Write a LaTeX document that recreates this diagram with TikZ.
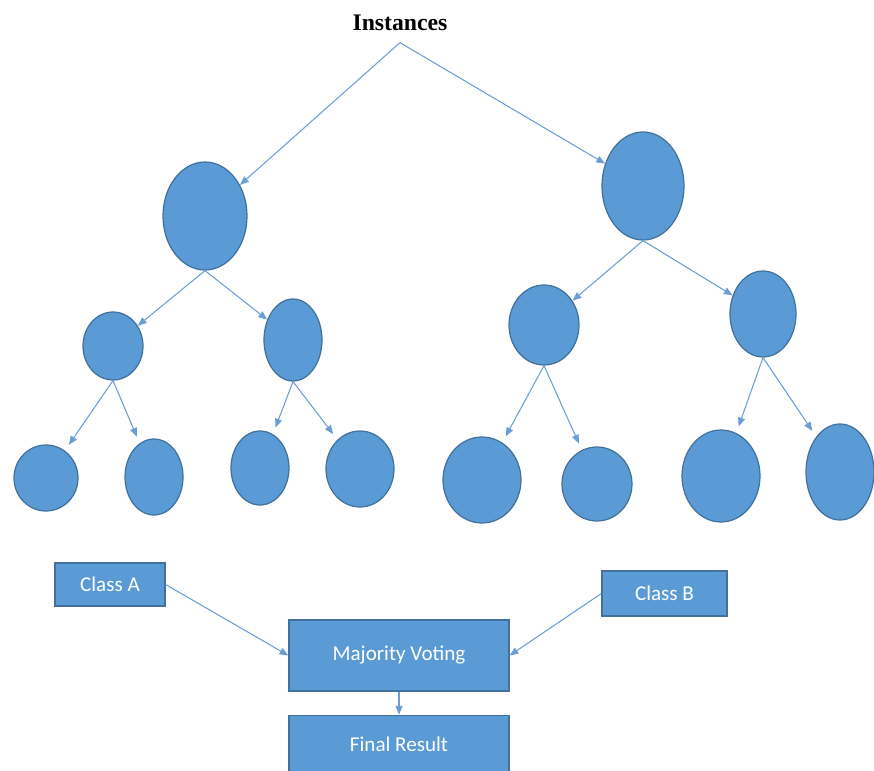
\documentclass[tikz,border=0pt]{standalone}
\usepackage{fontspec}
\setmainfont{Liberation Serif}
\newfontfamily\boxfont{Carlito}
\usepackage{tikz}
\usetikzlibrary{shapes.geometric,arrows.meta,positioning}
\definecolor{nodeblue}{HTML}{5B9BD5}
\definecolor{edgeblue}{HTML}{41719C}
\definecolor{linkblue}{HTML}{6A9ED6}
\tikzset{
  arr/.style={-{Triangle[length=5pt,width=4pt]},line width=0.6pt,linkblue},
  larr/.style={arr,shorten >=4pt},
  tnode/.style={ellipse,inner sep=0pt,fill=nodeblue,draw=edgeblue,line width=0.7pt},
  vbox/.style={rectangle,fill=nodeblue,draw=edgeblue,line width=0.7pt,
    text=white,font=\boxfont\fontsize{12}{14}\selectfont,align=center},
}

\begin{document}
\begin{tikzpicture}
\useasboundingbox (0,0) rectangle (17.48,-15.42);

% title and the two trees
\node[font=\bfseries\fontsize{13.5}{16}\selectfont,inner xsep=2pt,inner ysep=6.5pt] (inst) at (8.0,-0.46) {Instances};
\node[tnode,minimum width=1.68cm,minimum height=2.16cm,on grid,below left=3.86cm and 3.9cm of inst] (rootL) {};
\node[tnode,minimum width=1.64cm,minimum height=2.16cm,on grid,below right=3.26cm and 4.86cm of inst] (rootR) {};

\node[tnode,minimum width=1.2cm,minimum height=1.36cm,on grid,below left=2.6cm and 1.84cm of rootL] (l1) {};
\node[tnode,minimum width=1.16cm,minimum height=1.64cm,on grid,below right=2.48cm and 1.76cm of rootL] (l2) {};
\node[tnode,minimum width=1.4cm,minimum height=1.6cm,on grid,below left=2.78cm and 1.98cm of rootR] (r1) {};
\node[tnode,minimum width=1.32cm,minimum height=1.72cm,on grid,below right=2.56cm and 2.4cm of rootR] (r2) {};

\node[tnode,minimum width=1.28cm,minimum height=1.32cm,on grid,below left=2.64cm and 1.34cm of l1] (ll1) {};
\node[tnode,minimum width=1.16cm,minimum height=1.52cm,on grid,below right=2.62cm and 0.82cm of l1] (ll2) {};
\node[tnode,minimum width=1.16cm,minimum height=1.48cm,on grid,below left=2.56cm and 0.66cm of l2] (lr1) {};
\node[tnode,minimum width=1.36cm,minimum height=1.52cm,on grid,below right=2.58cm and 1.34cm of l2] (lr2) {};
\node[tnode,minimum width=1.56cm,minimum height=1.72cm,on grid,below left=3.1cm and 1.24cm of r1] (rl1) {};
\node[tnode,minimum width=1.4cm,minimum height=1.48cm,on grid,below right=3.18cm and 1.06cm of r1] (rl2) {};
\node[tnode,minimum width=1.56cm,minimum height=1.84cm,on grid,below left=3.24cm and 0.84cm of r2] (rr1) {};
\node[tnode,minimum width=1.36cm,minimum height=1.92cm,on grid,below right=3.16cm and 1.54cm of r2] (rr2) {};

\draw[arr] (inst.south) -- (rootL);
\draw[arr] (inst.south) -- (rootR);
\foreach \p/\a/\b in {rootL/l1/l2,rootR/r1/r2} {
  \draw[arr] (\p.south) -- (\a);
  \draw[arr] (\p.south) -- (\b);
}
\foreach \p/\a/\b in {l1/ll1/ll2,l2/lr1/lr2,r1/rl1/rl2,r2/rr1/rr2} {
  \draw[larr] (\p.south) -- (\a);
  \draw[larr] (\p.south) -- (\b);
}

% voting part
\node[vbox,minimum width=4.4cm,minimum height=1.42cm] (mv) at (7.98,-13.11) {Majority Voting};
\node[vbox,minimum width=4.4cm,minimum height=1.16cm,below=0.46cm of mv] (final) {Final Result};
\node[vbox,minimum width=2.2cm,minimum height=0.86cm] (classA) at (2.2,-11.69) {Class A};
\node[vbox,minimum width=2.5cm,minimum height=0.9cm] (classB) at (13.29,-11.87) {Class B};

\draw[arr] (classA.east) -- (mv.west);
\draw[arr] (classB.west) -- (mv.east);
\draw[arr] (mv.south) -- (final.north);
\end{tikzpicture}
\end{document}
